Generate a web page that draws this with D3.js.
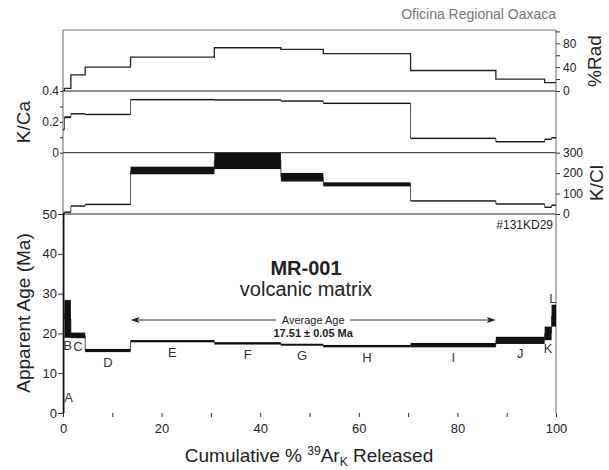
<!DOCTYPE html>
<html><head><meta charset="utf-8">
<script src="https://cdn.jsdelivr.net/npm/d3@7"></script>
<style>
html,body{margin:0;padding:0;background:#fff;}
text{font-family:"Liberation Sans",Arial,sans-serif;fill:#222;}
</style></head>
<body>
<script>
// ---------- data ----------
const stepLabels = ["A","B","C","D","E","F","G","H","I","J","K","L"];
const cumBounds  = [0, 0.3, 1.6, 4.5, 13.7, 30.7, 44.2, 52.8, 70.5, 87.8, 97.7, 99.1, 100];
const ageMa      = [25, 23.65, 19.5, 15.7, 18.05, 17.5, 17.15, 16.8, 17.05, 18.25, 20.0, 24.45];
const ageErr     = [30, 4.75, 0.7, 0.4, 0.28, 0.3, 0.25, 0.3, 0.55, 0.9, 1.7, 2.75];
const radPct     = [0, 4.4, 27, 40, 57, 72.6, 70, 62.8, 34.4, 20, 14, 14];
const kCa        = [0.15, 0.23, 0.252, 0.248, 0.344, 0.342, 0.335, 0.32, 0.093, 0.071, 0.087, 0.097];
const kCaErr     = [0.004, 0.006, 0.004, 0.002, 0.002, 0.002, 0.002, 0.002, 0.002, 0.002, 0.003, 0.003];
const kCl        = [3, 9, 39, 47, 213, 265, 180, 145, 64, 49, 33, 43];
const kClErr     = [2, 2, 1.5, 1.2, 18.6, 45, 21, 10, 2, 2, 2, 2];
const plateauRange = [13.7, 87.8];
const plateauText  = "17.51 \u00b1 0.05 Ma";
const xTicks   = [0,10,20,30,40,50,60,70,80,90,100];
const ageTicks = [0,10,20,30,40,50];
const kCaTicks = [0,0.1,0.2,0.3,0.4];
const radTicks = [0,20,40,60,80,100];
const kClTicks = [0,100,200,300];

const steps = stepLabels.map((s,i)=>({s, x0:cumBounds[i], x1:cumBounds[i+1],
  age:ageMa[i], ae:ageErr[i], rad:radPct[i], kca:kCa[i], kcae:kCaErr[i], kcl:kCl[i], kcle:kClErr[i]}));

// ---------- layout ----------
const W=609,H=470;
const L=63, R=556;
const yTop=30, yRad0=91, yKca0=152.7, yKcl0=214, yAge0=413;

const svg=d3.select("body").append("svg").attr("width",W).attr("height",H);
const x=d3.scaleLinear().domain([0,100]).range([L,R]);
const yRad=d3.scaleLinear().domain([0,100]).range([yRad0,31.4]);
const yKca=d3.scaleLinear().domain([0,0.4]).range([yKca0,yRad0]);
const yKcl=d3.scaleLinear().domain([0,300]).range([yKcl0,yKca0]);
const yAge=d3.scaleLinear().domain([0,50]).range([yAge0,yKcl0]);

const defs=svg.append("defs");
function clip(id,y0,y1){defs.append("clipPath").attr("id",id).append("rect").attr("x",L).attr("y",y0).attr("width",R-L).attr("height",y1-y0);}
clip("cRad",yTop,yRad0);clip("cKca",yRad0,yKca0);clip("cKcl",yKca0,yKcl0);clip("cAge",yKcl0,yAge0);

// ---------- frame ----------
const frame=svg.append("g");
frame.append("line").attr("x1",L).attr("x2",R).attr("y1",yTop).attr("y2",yTop).attr("stroke","#777");
[yRad0,yKca0,yKcl0].forEach(y=>frame.append("line").attr("x1",L).attr("x2",R).attr("y1",y).attr("y2",y).attr("stroke","#222"));
frame.append("line").attr("x1",L).attr("x2",L).attr("y1",yTop).attr("y2",yAge0).attr("stroke","#666");
frame.append("line").attr("x1",R).attr("x2",R).attr("y1",yTop).attr("y2",yAge0).attr("stroke","#666");

// ---------- panel drawer ----------
function boxes(clipId, y, key, ekey, minH){
  const g=svg.append("g").attr("clip-path",`url(#${clipId})`);
  for(let i=0;i<steps.length-1;i++){
    const a=steps[i],b=steps[i+1];
    g.append("line").attr("x1",x(a.x1)).attr("x2",x(a.x1))
      .attr("y1",y(a[key])).attr("y2",y(b[key])).attr("stroke","#555").attr("stroke-width",1);
  }
  g.selectAll("rect.b").data(steps).join("rect").attr("class","b")
    .attr("x",d=>x(d.x0)).attr("width",d=>x(d.x1)-x(d.x0))
    .attr("y",d=>{const t=y(d[key]+d[ekey]),b=y(d[key]-d[ekey]);return Math.min(t,(t+b)/2-minH/2);})
    .attr("height",d=>{const t=y(d[key]+d[ekey]),b=y(d[key]-d[ekey]);return Math.max(b-t,minH);})
    .attr("fill","#111");
  return g;
}

// %Rad step line
{
  const g=svg.append("g").attr("clip-path","url(#cRad)");
  const pts=[];
  steps.forEach(d=>{pts.push([x(d.x0),yRad(d.rad)]);pts.push([x(d.x1),yRad(d.rad)]);});
  g.append("path").attr("d",d3.line()(pts)).attr("fill","none").attr("stroke","#222").attr("stroke-width",1.3);
}
boxes("cKca",yKca,"kca","kcae",1.4);
boxes("cKcl",yKcl,"kcl","kcle",1.4);
boxes("cAge",yAge,"age","ae",2);

// ---------- axes ----------
function styleAxis(g){g.select(".domain").remove();g.selectAll("line").attr("stroke","#333");g.selectAll("text").attr("fill","#222").style("font-family","Liberation Sans, Arial, sans-serif");}
svg.append("g").attr("transform",`translate(0,${yAge0})`)
  .call(d3.axisBottom(x).tickValues(xTicks).tickSize(4).tickPadding(7).tickFormat(d=>d%20===0?d:""))
  .call(styleAxis).selectAll("text").style("font-size","13px");
svg.append("g").attr("transform",`translate(${L},0)`)
  .call(d3.axisLeft(yAge).tickValues(ageTicks).tickSize(5).tickPadding(1).tickFormat(d3.format("d")))
  .call(styleAxis).selectAll("text").style("font-size","13px");
svg.append("g").attr("transform",`translate(${L},0)`)
  .call(d3.axisLeft(yKca).tickValues(kCaTicks).tickSize(3).tickPadding(1).tickFormat(d=>[0,0.2,0.4].includes(d)?(d===0?"0":d3.format(".1f")(d)):""))
  .call(styleAxis).selectAll("text").style("font-size","12px");
svg.append("g").attr("transform",`translate(${R},0)`)
  .call(d3.axisRight(yRad).tickValues(radTicks).tickSize(4).tickPadding(3).tickFormat(d=>[0,40,80].includes(d)?d:""))
  .call(styleAxis).selectAll("text").style("font-size","12px");
svg.append("g").attr("transform",`translate(${R},0)`)
  .call(d3.axisRight(yKcl).tickValues(kClTicks).tickSize(4).tickPadding(3).tickFormat(d3.format("d")))
  .call(styleAxis).selectAll("text").style("font-size","12px");

// ---------- titles ----------
function rot(xc,yc,str,size){
  svg.append("text").attr("transform",`translate(${xc},${yc}) rotate(-90)`)
    .attr("text-anchor","middle").attr("dominant-baseline","central").style("font-size",size+"px").text(str);
}
rot(23,313,"Apparent Age (Ma)",19);
rot(23,122,"K/Ca",19);
rot(594,61,"%Rad",19);
rot(596,183,"K/Cl",19);

const xt=svg.append("text").attr("x",309).attr("y",462).attr("text-anchor","middle").style("font-size","19px");
xt.append("tspan").text("Cumulative % ");
xt.append("tspan").attr("dy",-7).style("font-size","12px").text("39");
xt.append("tspan").attr("dy",7).text("Ar");
xt.append("tspan").attr("dy",4).style("font-size","12px").text("K");
xt.append("tspan").attr("dy",-4).text(" Released");

svg.append("text").attr("x",556).attr("y",19).attr("text-anchor","end").style("font-size","14px").style("fill","#777").text("Oficina Regional Oaxaca");
svg.append("text").attr("x",553).attr("y",229).attr("text-anchor","end").style("font-size","12px").text("#131KD29");
svg.append("text").attr("x",306).attr("y",275).attr("text-anchor","middle").style("font-size","20px").style("font-weight","bold").text("MR-001");
svg.append("text").attr("x",306).attr("y",296).attr("text-anchor","middle").style("font-size","20px").text("volcanic matrix");

// plateau arrow
{
  const yA=320, xa=x(plateauRange[0]), xb=x(plateauRange[1]), xc=(xa+xb)/2;
  svg.append("line").attr("x1",xa+6).attr("x2",xb-6).attr("y1",yA).attr("y2",yA).attr("stroke","#333").attr("stroke-width",1);
  svg.append("path").attr("d",`M${xa},${yA} L${xa+9},${yA-3} L${xa+7},${yA} L${xa+9},${yA+3} Z`).attr("fill","#222");
  svg.append("path").attr("d",`M${xb},${yA} L${xb-9},${yA-3} L${xb-7},${yA} L${xb-9},${yA+3} Z`).attr("fill","#222");
  svg.append("rect").attr("x",xc-37).attr("y",yA-7).attr("width",74).attr("height",12).attr("fill","#fff");
  svg.append("text").attr("x",xc).attr("y",yA+4).attr("text-anchor","middle").style("font-size","11px").text("Average Age");
  svg.append("text").attr("x",xc).attr("y",yA+17).attr("text-anchor","middle").style("font-size","11px").style("font-weight","bold").text(plateauText);
}

// step labels
svg.append("g").selectAll("text").data(steps).join("text")
  .attr("text-anchor","middle").attr("dominant-baseline","central").style("font-size","13px").style("fill","#333")
  .attr("x",d=>d.s==="A"?x(d.x1)+4:(d.s==="L"?x((d.x0+d.x1)/2)-1:x((d.x0+d.x1)/2)))
  .attr("y",d=>{
    if(d.s==="A") return yAge(4);
    if(d.s==="L") return yAge(d.age+d.ae)-6;
    const bottom=Math.max(yAge(d.age-d.ae), yAge(d.age)+1);
    return bottom+ (d.s==="B"||d.s==="C"||d.s==="K"?8:10);
  })
  .text(d=>d.s);
</script>
</body></html>
